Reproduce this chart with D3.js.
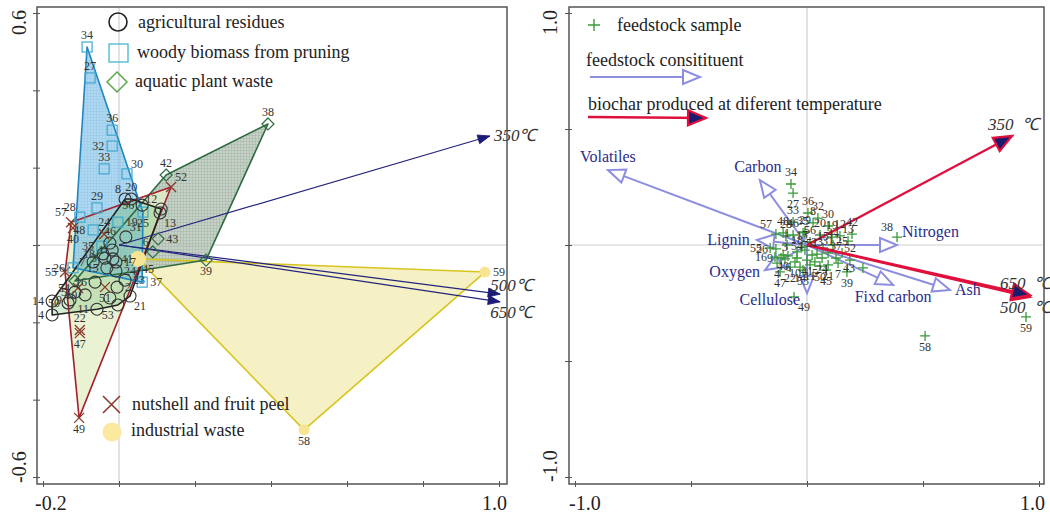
<!DOCTYPE html>
<html><head><meta charset="utf-8">
<script src="https://cdn.jsdelivr.net/npm/d3@7"></script>
<style>
body{margin:0;background:#fff}
svg{display:block}
text{font-family:"Liberation Serif","Times New Roman",serif}
</style>
</head><body>
<svg id="c" width="1050" height="520"></svg>
<script>
// ===================== DATA =====================
// Left panel: sample scores by feedstock group
const agriIds = ["1","2","3","4","5","","7","8","9","10","11","12","13","14","15","16","17","18","20","21","23","24","31","41","46","50","53","56"];
const agriX   = [-0.018,-0.005,-0.037,-0.176,-0.116,-0.024,-0.068,0.016,-0.129,-0.089,-0.058,0.111,0.108,-0.176,-0.032,-0.063,-0.008,-0.042,0.032,0.029,0.016,-0.008,0.018,-0.016,-0.024,-0.134,-0.003,0.061];
const agriY   = [-0.013,-0.109,-0.034,-0.181,-0.122,-0.137,-0.044,0.119,-0.142,-0.129,-0.166,0.093,0.083,-0.145,-0.059,-0.096,-0.044,-0.023,0.119,-0.132,-0.091,-0.067,0.021,-0.036,0.005,-0.150,-0.155,0.103];

const woodIds = ["34","27","36","32","33","30","29","28","48","19","25","35","26","37"];
const woodX   = [-0.084,-0.076,-0.018,-0.018,-0.039,0.021,-0.058,-0.103,-0.068,-0.003,0.063,-0.045,-0.121,0.061];
const woodY   = [0.512,0.432,0.297,0.256,0.197,0.184,0.096,0.072,0.039,0.059,0.085,-0.003,-0.059,-0.096];

const aquaIds = ["38","42","43","39","6",""];
const aquaX   = [0.392,0.124,0.103,0.229,0.089,-0.116];
const aquaY   = [0.313,0.181,0.016,-0.039,-0.018,-0.093];

const nutIds  = ["52","57","40","24","55","22","47","49","54","51"];
const nutX    = [0.137,-0.126,-0.121,-0.039,-0.142,-0.103,-0.103,-0.105,-0.108,-0.037];
const nutY    = [0.150,0.059,0.044,0.028,-0.070,-0.220,-0.228,-0.447,-0.111,-0.109];

const indIds  = ["45","58","59"];
const indX    = [0.050,0.487,0.963];
const indY    = [-0.036,-0.478,-0.070];

// Left panel: temperature vectors
const tempNames = ["350 ℃","500 ℃","650 ℃"];
const tempLX    = [0.976,1.003,1.003];
const tempLY    = [0.282,-0.127,-0.147];

// Right panel: feedstock samples
const rIds = ["34","27","36","32","33","30","57","28","29","20","19","12","42","13","38","26","3","31","25","52","43","39","21","7","47","4","22","9","49","58","59",
              "48","46","35","8","56","1","17","18","15","44","2","23","24","37","10","14","11","41","40","6","5","50","53","45","16","54","55","51"];
const rX = [-0.069,-0.060,0.004,0.047,-0.060,0.091,-0.134,-0.091,-0.009,0.056,0.108,0.142,0.194,0.177,0.388,-0.134,-0.095,0.091,0.151,0.185,0.241,0.172,0.091,0.134,-0.116,-0.129,-0.073,-0.112,-0.056,0.509,0.944,
            -0.103,-0.060,-0.017,0.026,0.013,-0.086,-0.022,-0.043,0.069,0.112,-0.009,0.043,0.065,0.125,-0.052,-0.030,0.013,0.000,-0.103,-0.082,0.034,0.056,-0.017,0.082,-0.138,-0.043,-0.159,0.022];
const rY = [0.263,0.224,0.138,0.116,0.099,0.082,0.047,0.039,0.056,0.043,0.034,0.039,0.047,0.017,0.034,-0.017,-0.060,-0.034,-0.034,-0.065,-0.099,-0.116,-0.086,-0.078,-0.116,-0.078,-0.095,-0.056,-0.224,-0.392,-0.310,
            0.052,0.043,0.052,0.095,0.013,0.000,-0.009,-0.030,-0.013,0.000,-0.022,-0.039,-0.056,-0.056,-0.073,-0.095,-0.086,-0.065,-0.043,-0.047,-0.073,-0.091,-0.108,-0.108,-0.052,-0.056,-0.013,-0.043];

// Right panel: feedstock constituent vectors
const constNames = ["Volatiles","Carbon","Lignin","Oxygen","Cellulose","Nitrogen","Fixd carbon","Ash"];
const constX     = [-0.858,-0.203,-0.216,-0.181,0.000,0.388,0.371,0.616];
const constY     = [0.323,0.280,0.022,-0.108,-0.207,0.000,-0.172,-0.194];

// Right panel: biochar temperature vectors
const tempRX = [0.884,0.961,0.961];
const tempRY = [0.470,-0.224,-0.216];

// Tick values
const xTicksL = [-0.2,0,0.2,0.4,0.6,0.8,1.0];
const yTicksL = [-0.6,-0.4,-0.2,0,0.2,0.4,0.6];
const ticksR  = [-1,-0.5,0,0.5,1];

// ===================== LAYOUT / STYLE =====================
const svg = d3.select("#c");
const defs = svg.append("defs");

const xL = d3.scaleLinear().domain([-0.2,1.0]).range([43,499]);
const yL = d3.scaleLinear().domain([-0.6,0.6]).range([477,13]);
const xR = d3.scaleLinear().domain([-1,1]).range([575,1039]);
const yR = d3.scaleLinear().domain([-1,1]).range([477,13]);

const C = {
  agri:{stroke:"#222", fill:"#7cc27c", fo:0.33, pt:"#333"},
  wood:{stroke:"#1f86c0", fill:"url(#pW)", fo:0.62, pt:"#3fa9cf"},
  aqua:{stroke:"#2f6b40", fill:"url(#pA)", fo:0.85, pt:"#3f9a3f"},
  nut:{stroke:"#a3202e", fill:"#e3efc8", fo:0.8, pt:"#8b3a2a"},
  ind:{stroke:"#d8c41e", fill:"#f4eebb", fo:0.85, pt:"#f8e594"}
};

// patterns
function pattern(id, bg, line){
  const p = defs.append("pattern").attr("id",id).attr("width",3).attr("height",3).attr("patternUnits","userSpaceOnUse");
  p.append("rect").attr("width",3).attr("height",3).attr("fill",bg);
  p.append("path").attr("d","M0,0.5H3M0.5,0V3").attr("stroke",line).attr("stroke-width",0.6);
}
pattern("pW","#7cc2ea","#5ea8d8");
pattern("pA","#bccabd","#98ab9a");

function marker(id,len,hw,fill,stroke,sw){
  const m = defs.append("marker").attr("id",id).attr("markerUnits","userSpaceOnUse")
    .attr("viewBox",`-3 ${-hw-3} ${len+6} ${2*hw+6}`)
    .attr("markerWidth",len+6).attr("markerHeight",2*hw+6)
    .attr("refX",len).attr("refY",0).attr("orient","auto");
  m.append("path").attr("d",`M0,${-hw}L${len},0L0,${hw}Z`).attr("fill",fill)
    .attr("stroke",stroke).attr("stroke-width",sw).attr("stroke-linejoin","miter");
}
marker("mNavy",12,4.5,"#1c1c78","#1c1c78",0.8);
marker("mOpen",17,7,"#fff","#8e8ee0",2);
marker("mRed",18,7.5,"#1a1a6e","#e0103c",2.2);

const offs = {
  a:[0,-8,"middle"], b:[0,15,"middle"], l:[-8,4,"end"], r:[8,4,"start"],
  al:[-4,-6,"end"], ar:[4,-6,"start"], bl:[-4,14,"end"], br:[4,14,"start"]
};

// ===================== LEFT PANEL =====================
const L = svg.append("g");
L.append("line").attr("x1",xL(0)).attr("x2",xL(0)).attr("y1",8).attr("y2",483).attr("stroke","#cfcfcf").attr("stroke-width",1.2);
L.append("line").attr("x1",38).attr("x2",506).attr("y1",yL(0)).attr("y2",yL(0)).attr("stroke","#cfcfcf").attr("stroke-width",1.2);

const groupsL = [
  {key:"ind", ids:indIds, xs:indX, ys:indY},
  {key:"aqua", ids:aquaIds, xs:aquaX, ys:aquaY},
  {key:"nut", ids:nutIds, xs:nutX, ys:nutY},
  {key:"wood", ids:woodIds, xs:woodX, ys:woodY},
  {key:"agri", ids:agriIds, xs:agriX, ys:agriY}
];
groupsL.forEach(g=>{ g.pts = g.xs.map((v,i)=>[xL(v), yL(g.ys[i])]); g.hull = d3.polygonHull(g.pts); });

groupsL.forEach(g=>{
  L.append("path").attr("d","M"+g.hull.join("L")+"Z").attr("fill",C[g.key].fill).attr("fill-opacity",C[g.key].fo).attr("stroke","none");
});
groupsL.forEach(g=>{
  L.append("path").attr("d","M"+g.hull.join("L")+"Z").attr("fill","none").attr("stroke",C[g.key].stroke).attr("stroke-width",1.6).attr("stroke-linejoin","round");
});

tempNames.forEach((n,i)=>{
  L.append("line").attr("x1",xL(0)).attr("y1",yL(0)).attr("x2",xL(tempLX[i])).attr("y2",yL(tempLY[i]))
    .attr("stroke","#24247e").attr("stroke-width",1.2).attr("marker-end","url(#mNavy)");
});

function drawSym(g, key, x, y, big){
  if(key==="agri") g.append("circle").attr("cx",x).attr("cy",y).attr("r",6).attr("fill","none").attr("stroke",C.agri.pt).attr("stroke-width",1.1);
  else if(key==="wood") g.append("rect").attr("x",x-5).attr("y",y-5).attr("width",10).attr("height",10).attr("fill","none").attr("stroke",C.wood.pt).attr("stroke-width",1.2);
  else if(key==="aqua") g.append("path").attr("d",`M${x},${y-6}L${x+6},${y}L${x},${y+6}L${x-6},${y}Z`).attr("fill","none").attr("stroke",C.aqua.stroke).attr("stroke-width",1.2);
  else if(key==="nut") g.append("path").attr("d",`M${x-5},${y-5}L${x+5},${y+5}M${x-5},${y+5}L${x+5},${y-5}`).attr("stroke",C.nut.pt).attr("stroke-width",1.3);
  else if(key==="ind") g.append("circle").attr("cx",x).attr("cy",y).attr("r",big?8:5.5).attr("fill",C.ind.pt).attr("stroke","none");
}
groupsL.forEach(g=>{ g.pts.forEach((p,i)=>drawSym(L,g.key,p[0],p[1], g.ids[i]==="45")); });

const leftLabelSide = {
  "agri-4":"l","agri-14":"l","agri-56":"l","agri-41":"r","agri-24":"r","agri-31":"ar","agri-13":"br","agri-12":"al",
  "agri-53":"bl","agri-21":"br","agri-11":"l","agri-50":"l","agri-8":"al","agri-9":"l","agri-5":"l","agri-16":"l",
  "agri-15":"l","agri-7":"l","agri-18":"l","agri-1":"l","agri-2":"r","agri-10":"l","agri-3":"l","agri-17":"r","agri-23":"r",
  "wood-32":"l","wood-30":"ar","wood-28":"al","wood-48":"l","wood-19":"r","wood-25":"b","wood-35":"l","wood-26":"l","wood-37":"r",
  "nut-52":"ar","nut-57":"al","nut-40":"b","nut-55":"l","nut-22":"a","nut-47":"b","nut-49":"b","nut-54":"l","nut-51":"b",
  "aqua-43":"r","aqua-39":"b","aqua-6":"al","ind-45":"br","ind-58":"b","ind-59":"r"
};
groupsL.forEach(g=>{
  g.pts.forEach((p,i)=>{
    const id = g.ids[i]; if(!id) return;
    const o = offs[leftLabelSide[g.key+"-"+id]||"a"];
    L.append("text").attr("x",p[0]+o[0]).attr("y",p[1]+o[1]).attr("text-anchor",o[2])
      .attr("font-size",12).attr("fill","#333").text(id);
  });
});

[[0,4,5],[1,-10,-3],[2,-10,16]].forEach(([i,dx,dy])=>{
  L.append("text").attr("x",xL(tempLX[i])+dx).attr("y",yL(tempLY[i])+dy).attr("font-size",17)
    .attr("font-style","italic").attr("fill","#333").text(tempNames[i].replace(" ",""));
});

L.append("rect").attr("x",37).attr("y",7).attr("width",470).attr("height",477).attr("fill","none").attr("stroke","#555").attr("stroke-width",1.5);
L.append("g").attr("transform","translate(0,481)").call(d3.axisBottom(xL).tickValues(xTicksL).tickSize(6).tickSizeOuter(0).tickFormat(""))
  .call(s=>s.select(".domain").remove()).selectAll("line").attr("stroke","#555");
L.append("g").attr("transform","translate(40,0)").call(d3.axisLeft(yL).tickValues(yTicksL).tickSize(7).tickSizeOuter(0).tickFormat(""))
  .call(s=>s.select(".domain").remove()).selectAll("line").attr("stroke","#555");
L.append("text").attr("x",xL(-0.2)-8).attr("y",510).attr("font-size",20).attr("fill","#222").text("-0.2");
L.append("text").attr("x",xL(1.0)+8).attr("y",510).attr("text-anchor","end").attr("font-size",20).attr("fill","#222").text("1.0");
L.append("text").attr("transform",`translate(26,${yL(0.6)-3}) rotate(-90)`).attr("text-anchor","end").attr("font-size",20).attr("fill","#222").text("0.6");
L.append("text").attr("transform",`translate(26,${yL(-0.6)+6}) rotate(-90)`).attr("text-anchor","start").attr("font-size",20).attr("fill","#222").text("-0.6");

const groupNames = {agri:"agricultural residues", wood:"woody biomass from pruning", aqua:"aquatic plant waste", nut:"nutshell and fruit peel", ind:"industrial waste"};
const LG = L.append("g");
LG.append("circle").attr("cx",118).attr("cy",22).attr("r",9).attr("fill","none").attr("stroke","#222").attr("stroke-width",1.6);
LG.append("text").attr("x",138).attr("y",28).attr("font-size",18).attr("fill","#222").text(groupNames.agri);
LG.append("rect").attr("x",109).attr("y",44).attr("width",19).attr("height",18).attr("fill","none").attr("stroke","#5cc0d6").attr("stroke-width",1.5);
LG.append("text").attr("x",137).attr("y",58).attr("font-size",18).attr("fill","#222").text(groupNames.wood);
LG.append("path").attr("d","M117,72L127,82L117,92L107,82Z").attr("fill","none").attr("stroke","#5aa84a").attr("stroke-width",1.5);
LG.append("text").attr("x",135).attr("y",87).attr("font-size",18).attr("fill","#222").text(groupNames.aqua);
LG.append("path").attr("d","M103,396L120,413M103,413L120,396").attr("stroke","#8b3a2a").attr("stroke-width",1.6);
LG.append("text").attr("x",132).attr("y",410).attr("font-size",18).attr("fill","#222").text(groupNames.nut);
LG.append("circle").attr("cx",112).attr("cy",432).attr("r",9.5).attr("fill","#fbe9a0");
LG.append("text").attr("x",131).attr("y",436).attr("font-size",18).attr("fill","#222").text(groupNames.ind);

// ===================== RIGHT PANEL =====================
const R = svg.append("g");
R.append("line").attr("x1",xR(0)).attr("x2",xR(0)).attr("y1",8).attr("y2",483).attr("stroke","#cfcfcf").attr("stroke-width",1.2);
R.append("line").attr("x1",570).attr("x2",1043).attr("y1",yR(0)).attr("y2",yR(0)).attr("stroke","#cfcfcf").attr("stroke-width",1.2);

constNames.forEach((n,i)=>{
  R.append("line").attr("x1",xR(0)).attr("y1",yR(0)).attr("x2",xR(constX[i])).attr("y2",yR(constY[i]))
    .attr("stroke","#8e8ee0").attr("stroke-width",2).attr("marker-end","url(#mOpen)");
});

const rPts = rX.map((v,i)=>[xR(v), yR(rY[i])]);
rPts.forEach(p=>{
  R.append("path").attr("d",`M${p[0]-5},${p[1]}H${p[0]+5}M${p[0]},${p[1]-5}V${p[1]+5}`).attr("stroke","#3a9a3a").attr("stroke-width",1.3);
});

[0,1,2].forEach(i=>{
  R.append("line").attr("x1",xR(0)).attr("y1",yR(0)).attr("x2",xR(tempRX[i])).attr("y2",yR(tempRY[i]))
    .attr("stroke","#e0103c").attr("stroke-width",2.4).attr("marker-end","url(#mRed)");
});

const rightLabelSide = {"27":"b","38":"al","43":"l","39":"b","21":"b","7":"b","47":"b","4":"b","22":"b","9":"l","49":"br","58":"b","59":"b",
  "26":"l","57":"al","10":"b","14":"b","11":"b","41":"b","40":"b","6":"b","24":"b","5":"b","50":"b","53":"b","45":"b","16":"l","55":"l"};
rPts.forEach((p,i)=>{
  const o = offs[rightLabelSide[rIds[i]]||"a"];
  R.append("text").attr("x",p[0]+o[0]).attr("y",p[1]+o[1]).attr("text-anchor",o[2]).attr("font-size",12).attr("fill","#333").text(rIds[i]);
});

const constLabel = {"Volatiles":[0,-8,"middle"],"Carbon":[-2,-8,"middle"],"Lignin":[-7,5,"end"],"Oxygen":[-5,7,"end"],
  "Cellulose":[-7,12,"end"],"Nitrogen":[5,-8,"start"],"Fixd carbon":[0,17,"middle"],"Ash":[5,5,"start"]};
constNames.forEach((n,i)=>{
  const o = constLabel[n];
  R.append("text").attr("x",xR(constX[i])+o[0]).attr("y",yR(constY[i])+o[1]).attr("text-anchor",o[2])
    .attr("font-size",16).attr("fill","#2b2b8c").text(n);
});

[[0,-24,-6],[2,-30,-6],[1,-30,16]].forEach(([i,dx,dy])=>{
  R.append("text").attr("x",xR(tempRX[i])+dx).attr("y",yR(tempRY[i])+dy).attr("font-size",17)
    .attr("font-style","italic").attr("fill","#333").attr("xml:space","preserve").text(tempNames[i].replace(" ","  "));
});

R.append("rect").attr("x",569).attr("y",7).attr("width",475).attr("height",477).attr("fill","none").attr("stroke","#555").attr("stroke-width",1.5);
R.append("g").attr("transform","translate(0,481)").call(d3.axisBottom(xR).tickValues(ticksR).tickSize(6).tickSizeOuter(0).tickFormat(""))
  .call(s=>s.select(".domain").remove()).selectAll("line").attr("stroke","#555");
R.append("g").attr("transform","translate(572,0)").call(d3.axisLeft(yR).tickValues(ticksR).tickSize(7).tickSizeOuter(0).tickFormat(""))
  .call(s=>s.select(".domain").remove()).selectAll("line").attr("stroke","#555");
R.append("text").attr("x",xR(-1)-6).attr("y",510).attr("font-size",20).attr("fill","#222").text("-1.0");
R.append("text").attr("x",xR(1)+6).attr("y",510).attr("text-anchor","end").attr("font-size",20).attr("fill","#222").text("1.0");
R.append("text").attr("transform",`translate(557,${yR(1)-3}) rotate(-90)`).attr("text-anchor","end").attr("font-size",20).attr("fill","#222").text("1.0");
R.append("text").attr("transform",`translate(557,${yR(-1)+5}) rotate(-90)`).attr("text-anchor","start").attr("font-size",20).attr("fill","#222").text("-1.0");

const RG = R.append("g");
RG.append("path").attr("d","M588,25H600M594,19V31").attr("stroke","#3a9a3a").attr("stroke-width",1.4);
RG.append("text").attr("x",617).attr("y",31).attr("font-size",18).attr("fill","#222").text("feedstock sample");
RG.append("text").attr("x",586).attr("y",66).attr("font-size",18).attr("fill","#222").text("feedstock consitituent");
RG.append("line").attr("x1",590).attr("y1",77).attr("x2",700).attr("y2",77).attr("stroke","#8e8ee0").attr("stroke-width",2).attr("marker-end","url(#mOpen)");
RG.append("text").attr("x",588).attr("y",110).attr("font-size",18).attr("fill","#222").text("biochar produced at diferent temperature");
RG.append("line").attr("x1",588).attr("y1",117).attr("x2",706).attr("y2",118).attr("stroke","#e0103c").attr("stroke-width",2.4).attr("marker-end","url(#mRed)");
</script>
</body></html>
